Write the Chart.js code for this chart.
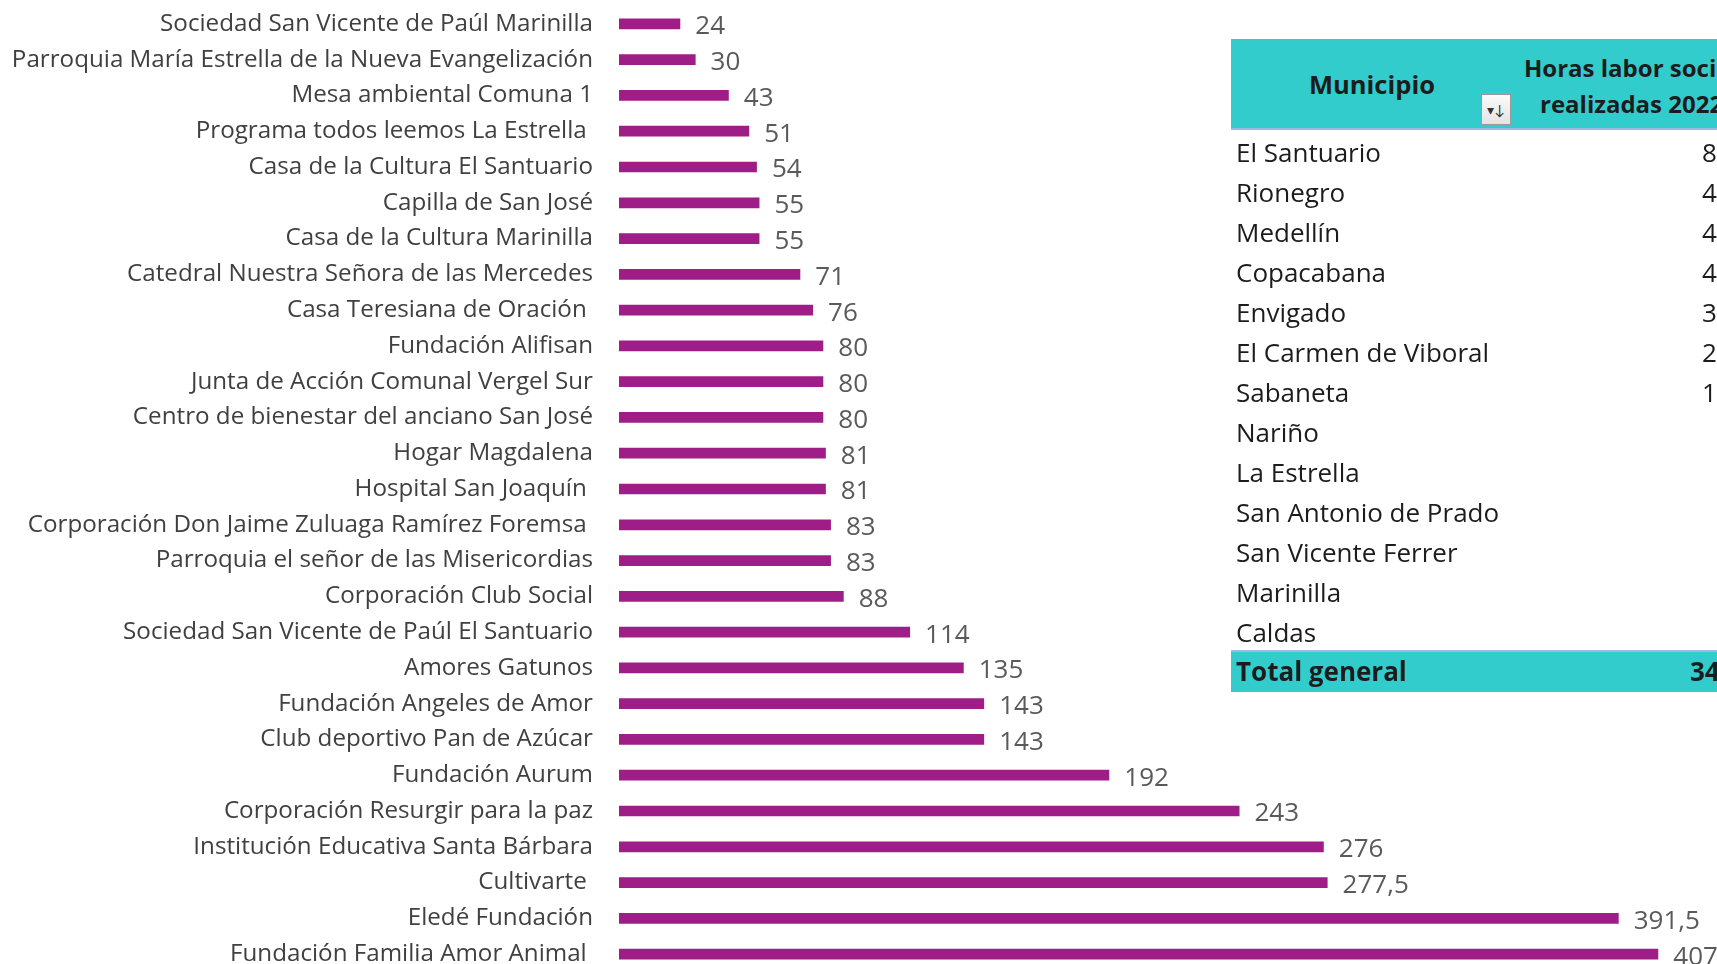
<!DOCTYPE html>
<html lang="es">
<head>
<meta charset="utf-8">
<script src="https://cdn.jsdelivr.net/npm/chart.js@4.4.0/dist/chart.umd.min.js"></script>
<style>
html,body{margin:0;padding:0;width:1717px;height:964px;overflow:hidden;background:#ffffff;}
#wrap{position:absolute;left:0;top:0;width:1717px;height:980px;}
#tabla{position:absolute;left:1231px;top:39px;width:700px;font-family:"Open Sans",Lato,sans-serif;color:#1c1c1c;}
.hdr{position:absolute;left:0;top:0;width:700px;height:91px;background:#33CCCC;border-bottom:2px solid #9DB7E8;box-sizing:border-box;}
.h1{position:absolute;font-weight:700;font-size:25.5px;white-space:nowrap;line-height:34px;}
.h2{position:absolute;font-weight:700;font-size:24px;white-space:nowrap;line-height:34px;}
.filtro{position:absolute;left:250px;top:55px;width:30px;height:31px;box-sizing:border-box;border:1px solid #9a9a9a;background:linear-gradient(#fafafa,#e4e4e4);font-size:14px;line-height:30px;text-align:center;color:#333;}
.fila{position:absolute;left:0;width:700px;height:40px;font-size:26px;line-height:40px;white-space:nowrap;}
.fila .n{position:absolute;left:5px;top:0;}
.fila .v{position:absolute;left:471px;top:0;}
.total{background:#33CCCC;font-weight:700;border-top:2px solid #9DB7E8;box-sizing:border-box;height:42px;line-height:38px;}
.total .v{left:459px;}
</style>
</head>
<body>
<div id="wrap"><canvas id="c" width="1717" height="980"></canvas></div>
<div id="tabla"></div>
<script>
const organizaciones = [
  "Sociedad San Vicente de Paúl Marinilla",
  "Parroquia María Estrella de la Nueva Evangelización",
  "Mesa ambiental Comuna 1",
  "Programa todos leemos La Estrella ",
  "Casa de la Cultura El Santuario",
  "Capilla de San José",
  "Casa de la Cultura Marinilla",
  "Catedral Nuestra Señora de las Mercedes",
  "Casa Teresiana de Oración ",
  "Fundación Alifisan",
  "Junta de Acción Comunal Vergel Sur",
  "Centro de bienestar del anciano San José",
  "Hogar Magdalena",
  "Hospital San Joaquín ",
  "Corporación Don Jaime Zuluaga Ramírez Foremsa ",
  "Parroquia el señor de las Misericordias",
  "Corporación Club Social",
  "Sociedad San Vicente de Paúl El Santuario",
  "Amores Gatunos",
  "Fundación Angeles de Amor",
  "Club deportivo Pan de Azúcar",
  "Fundación Aurum",
  "Corporación Resurgir para la paz",
  "Institución Educativa Santa Bárbara",
  "Cultivarte ",
  "Eledé Fundación",
  "Fundación Familia Amor Animal "
];
const horas = [24,30,43,51,54,55,55,71,76,80,80,80,81,81,83,83,88,114,135,143,143,192,243,276,277.5,391.5,407];

const municipios = ["El Santuario","Rionegro","Medellín","Copacabana","Envigado","El Carmen de Viboral","Sabaneta","Nariño","La Estrella","San Antonio de Prado","San Vicente Ferrer","Marinilla","Caldas"];
// only the leading digits that are visible before the picture's right edge
const horasMunicipioVisibles = ["8","4","4","4","3","2","1","","","","","",""];
const encabezados = ["Municipio","Horas labor sociales","realizadas 2022"];
const totalEtiqueta = "Total general";
const totalVisible = "34";

// ---- table ----
const t = document.getElementById('tabla');
let html = '<div class="hdr">' +
  '<div class="h1" style="left:0;width:282px;text-align:center;top:28px;">' + encabezados[0] + '</div>' +
  '<div class="h2" style="left:293px;top:12px;">' + encabezados[1] + '</div>' +
  '<div class="h2" style="left:309px;top:48px;">' + encabezados[2] + '</div>' +
  '<div class="filtro">&#9662;&#8595;</div></div>';
municipios.forEach((m,i)=>{
  html += '<div class="fila" style="top:' + (93 + i*40) + 'px"><span class="n">' + m +
          '</span><span class="v">' + horasMunicipioVisibles[i] + '</span></div>';
});
html += '<div class="fila total" style="top:' + (93 + municipios.length*40 - 2) + 'px"><span class="n">' +
        totalEtiqueta + '</span><span class="v">' + totalVisible + '</span></div>';
t.innerHTML = html;

// ---- chart ----
const etiquetasValor = {
  id: 'etiquetasValor',
  afterDatasetsDraw(chart) {
    const ctx = chart.ctx;
    const meta = chart.getDatasetMeta(0);
    const vals = chart.data.datasets[0].data;
    ctx.save();
    ctx.font = '26px "Open Sans", Lato, sans-serif';
    ctx.fillStyle = '#5a5a5a';
    ctx.textAlign = 'left';
    ctx.textBaseline = 'middle';
    meta.data.forEach((bar, i) => {
      ctx.fillText(String(vals[i]).replace('.', ','), bar.x + 15, bar.y + 3);
    });
    ctx.restore();
  }
};

new Chart(document.getElementById('c'), {
  type: 'bar',
  data: {
    labels: organizaciones,
    datasets: [{
      data: horas,
      backgroundColor: '#9E1D87',
      borderWidth: 0,
      barPercentage: 0.6,
      categoryPercentage: 0.5
    }]
  },
  options: {
    indexAxis: 'y',
    responsive: false,
    animation: false,
    layout: { padding: { top: 6, bottom: 8, left: 0, right: 0 } },
    plugins: { legend: { display: false }, tooltip: { enabled: false } },
    scales: {
      x: { min: 0, max: 430, display: false },
      y: {
        grid: { display: false, drawTicks: false },
        border: { display: false },
        ticks: {
          color: '#404040',
          font: { family: '"Open Sans", Lato, sans-serif', size: 24.2 },
          padding: 26,
          autoSkip: false
        },
        afterFit(scale) {
          scale.width = 619;
          scale.paddingTop = 0;
          scale.paddingBottom = 0;
        }
      }
    }
  },
  plugins: [etiquetasValor]
});
</script>
</body>
</html>
